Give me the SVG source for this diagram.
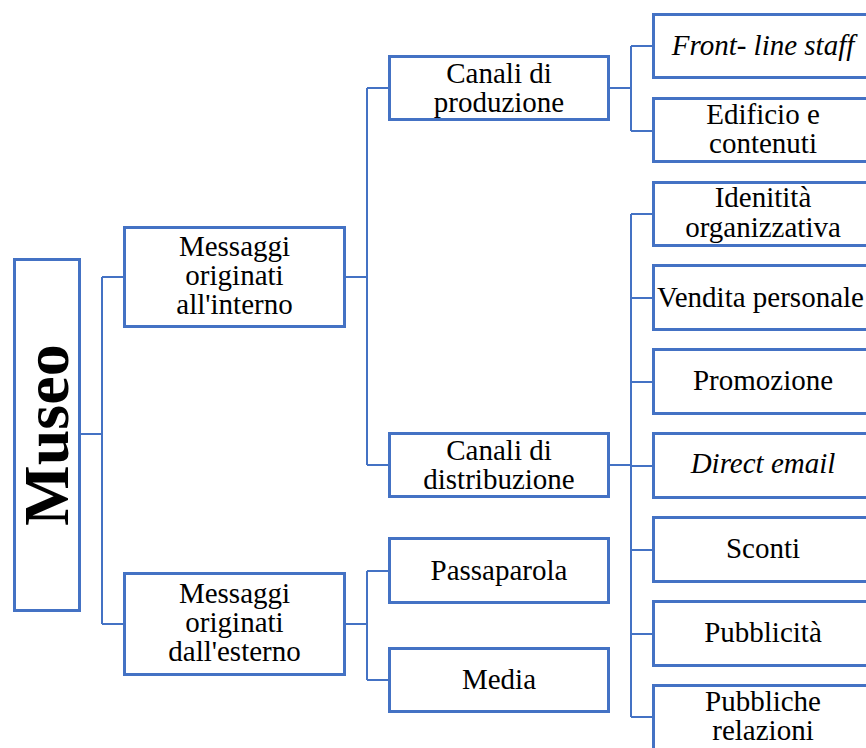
<svg xmlns="http://www.w3.org/2000/svg" width="866" height="748" viewBox="0 0 866 748">
<style>
.box{fill:#fff;stroke:#4472C4;stroke-width:3}
.con{fill:none;stroke:#4472C4;stroke-width:2}
.t{font-size:29px;fill:#000;text-anchor:middle}
.i{font-style:italic}
</style>
<rect width="866" height="748" fill="#fff"/>
<g id="connectors">
<path class="con" d="M81,434H102M102,277V624M102,277H123M102,624H123"/>
<path class="con" d="M346,277H367M367,88V465M367,88H388M367,465H388"/>
<path class="con" d="M346,624H367M367,571V680M367,571H388M367,680H388"/>
<path class="con" d="M610,88H631M631,46V131M631,46H652M631,131H652"/>
<path class="con" d="M610,465H631M631,214V717M631,214H652M631,298H652M631,382H652M631,466H652M631,550H652M631,634H652M631,717H652"/>
</g>
<g font-family="Liberation Serif, Times New Roman, serif">
<g id="museo">
<rect class="box" x="14.5" y="259.5" width="65" height="351"/>
<text transform="translate(68,435) rotate(-90)" font-weight="bold" font-size="64" text-anchor="middle">Museo</text>
</g>
<g id="interno">
<rect class="box" x="124.5" y="227.5" width="220" height="99"/>
<text class="t" x="234.5" y="256">Messaggi</text>
<text class="t" x="234.5" y="285">originati</text>
<text class="t" x="234.5" y="314">all'interno</text>
</g>
<g id="esterno">
<rect class="box" x="124.5" y="573.5" width="220" height="101"/>
<text class="t" x="234.5" y="603">Messaggi</text>
<text class="t" x="234.5" y="632">originati</text>
<text class="t" x="234.5" y="661">dall'esterno</text>
</g>
<g id="produzione">
<rect class="box" x="389.5" y="56.5" width="219" height="63"/>
<text class="t" x="499" y="83">Canali di</text>
<text class="t" x="499" y="112">produzione</text>
</g>
<g id="distribuzione">
<rect class="box" x="389.5" y="433.5" width="219" height="63"/>
<text class="t" x="499" y="460">Canali di</text>
<text class="t" x="499" y="489">distribuzione</text>
</g>
<g id="passaparola">
<rect class="box" x="389.5" y="538.5" width="219" height="64"/>
<text class="t" x="499" y="580">Passaparola</text>
</g>
<g id="media">
<rect class="box" x="389.5" y="648.5" width="219" height="63"/>
<text class="t" x="499" y="689">Media</text>
</g>
<g id="frontline">
<rect class="box" x="653.5" y="14.5" width="219" height="63"/>
<text class="t i" x="763" y="55">Front- line staff</text>
</g>
<g id="edificio">
<rect class="box" x="653.5" y="98.5" width="219" height="63"/>
<text class="t" x="763" y="124">Edificio e</text>
<text class="t" x="763" y="153">contenuti</text>
</g>
<g id="identita">
<rect class="box" x="653.5" y="182.5" width="219" height="63"/>
<text class="t" x="763" y="207">Idenitità</text>
<text class="t" x="763" y="237">organizzativa</text>
</g>
<g id="vendita">
<rect class="box" x="653.5" y="265.5" width="219" height="64"/>
<text class="t" x="657" y="307" text-anchor="start" style="text-anchor:start">Vendita personale</text>
</g>
<g id="promozione">
<rect class="box" x="653.5" y="349.5" width="219" height="64"/>
<text class="t" x="763" y="390">Promozione</text>
</g>
<g id="directemail">
<rect class="box" x="653.5" y="433.5" width="219" height="64"/>
<text class="t i" x="763" y="473">Direct email</text>
</g>
<g id="sconti">
<rect class="box" x="653.5" y="517.5" width="219" height="64"/>
<text class="t" x="763" y="558">Sconti</text>
</g>
<g id="pubblicita">
<rect class="box" x="653.5" y="601.5" width="219" height="64"/>
<text class="t" x="763" y="642">Pubblicità</text>
</g>
<g id="relazioni">
<rect class="box" x="653.5" y="685.5" width="219" height="64"/>
<text class="t" x="763" y="711">Pubbliche</text>
<text class="t" x="763" y="740">relazioni</text>
</g>
</g>
</svg>
